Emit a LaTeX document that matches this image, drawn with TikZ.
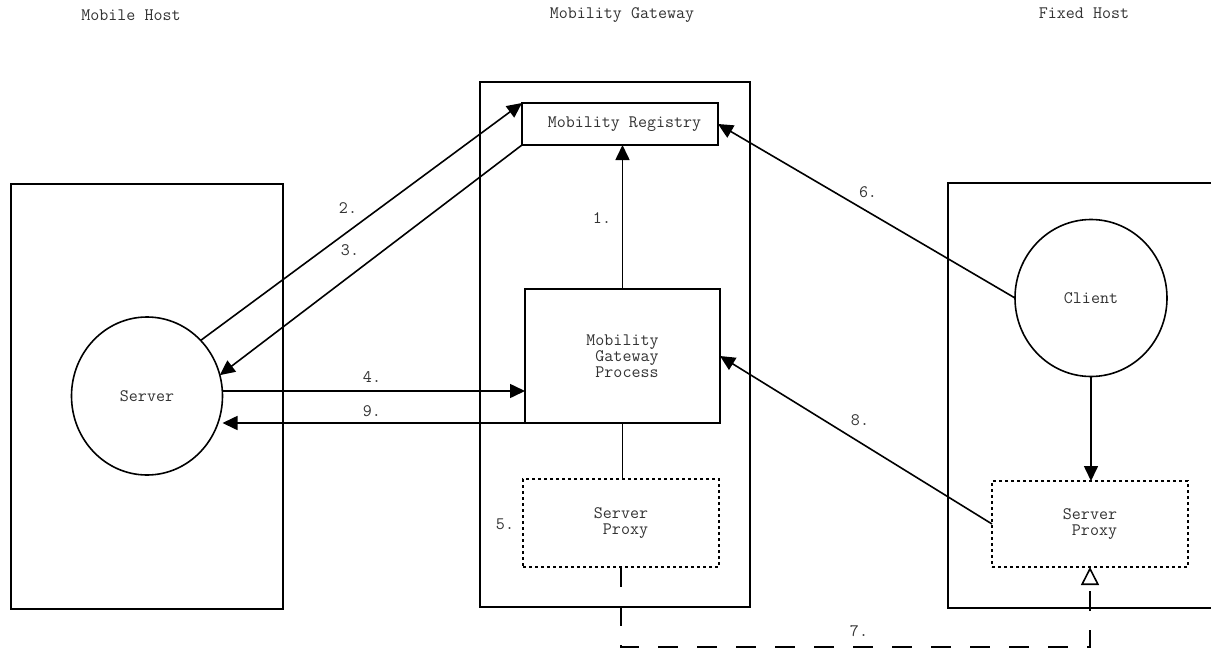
\documentclass[tikz,border=0pt]{standalone}
\usepackage{fontspec}
\usetikzlibrary{arrows.meta,shapes.geometric}
\begin{document}
\begin{tikzpicture}[x=1pt,y=-1pt,
  line width=1.6pt,
  txt/.style={font=\ttfamily\fontsize{17.5}{16}\selectfont, text=black!80},
  box/.style={draw, rectangle, inner sep=0pt, outer sep=0pt, txt, align=center},
  proxybox/.style={box, dash pattern=on 3pt off 3pt},
  round/.style={draw, ellipse, inner sep=0pt, outer sep=0pt, txt},
  lbl/.style={txt, inner sep=0pt},
  flow/.style={-{Triangle[length=15pt,width=14pt]}},
]
\useasboundingbox (0,0) rectangle (1211,648);
\clip (0,0) rectangle (1211,648);
\fill[white] (0,0) rectangle (1211,648);

% column headings
\node[lbl] (hmobile)  at (131,15)  {Mobile Host};
\node[lbl] (hgateway) at (622,15)  {Mobility Gateway};
\node[lbl] (hfixed)   at (1084,13) {Fixed Host};

% host frames
\node[box, minimum width=272pt, minimum height=425pt] (mobilehost) at (147,396.5) {};
\node[box, minimum width=270pt, minimum height=525pt] (gateway)    at (615,344.5) {};
\node[box, minimum width=312pt, minimum height=425pt] (fixedhost)  at (1104,395.5) {};

% gateway components
\node[box, minimum width=196pt, minimum height=42pt] (registry) at (620,124)
  {\hphantom{x}Mobility Registry};
\node[box, minimum width=195pt, minimum height=134pt] (mgp) at (622.5,356)
  {Mobility\\\hphantom{x}Gateway\\\hphantom{x}Process};
\node[proxybox, minimum width=196pt, minimum height=88pt] (proxy1) at (621,523)
  {Server\\\hphantom{x}Proxy};

% fixed host components
\node[round, minimum width=152pt, minimum height=157pt] (client) at (1091,298) {Client};
\node[proxybox, minimum width=196pt, minimum height=86pt] (proxy2) at (1090,524)
  {Server\\\hphantom{x}Proxy};

% mobile host component
\node[round, minimum width=151pt, minimum height=158pt] (server) at (147,396) {Server};

% message flows
\draw[flow] (mgp.north) -- (mgp.north |- registry.south);
\draw[flow] (server.46) -- (registry.north west);
\draw[flow] (registry.south west) -- (server.16);
\draw[flow] ([yshift=5pt]server.east) -- ([yshift=5pt]server.east -| mgp.west);
\draw[flow] (mgp.south west) -- (mgp.south west -| server.east);
\draw (mgp.south) -- (mgp.south |- proxy1.north);
\draw[flow] (client.west) -- (registry.east);
\draw[flow] (proxy2.west) -- (mgp.east);
\draw[flow] (client.south) -- (client.south |- proxy2.north);
\draw[dash pattern=on 20pt off 19pt, -{Triangle[open,length=18pt,width=18pt]}]
  (proxy1.south) -- ++(0,80) -| (proxy2.south);

% step numbers
\node[lbl] (n1) at (602,218) {1.};
\node[lbl] (n2) at (348,208) {2.};
\node[lbl] (n3) at (350,250) {3.};
\node[lbl] (n4) at (372,377) {4.};
\node[lbl] (n5) at (505,524) {5.};
\node[lbl] (n6) at (868,192) {6.};
\node[lbl] (n7) at (859,631) {7.};
\node[lbl] (n8) at (860,420) {8.};
\node[lbl] (n9) at (372,411) {9.};
\end{tikzpicture}
\end{document}
